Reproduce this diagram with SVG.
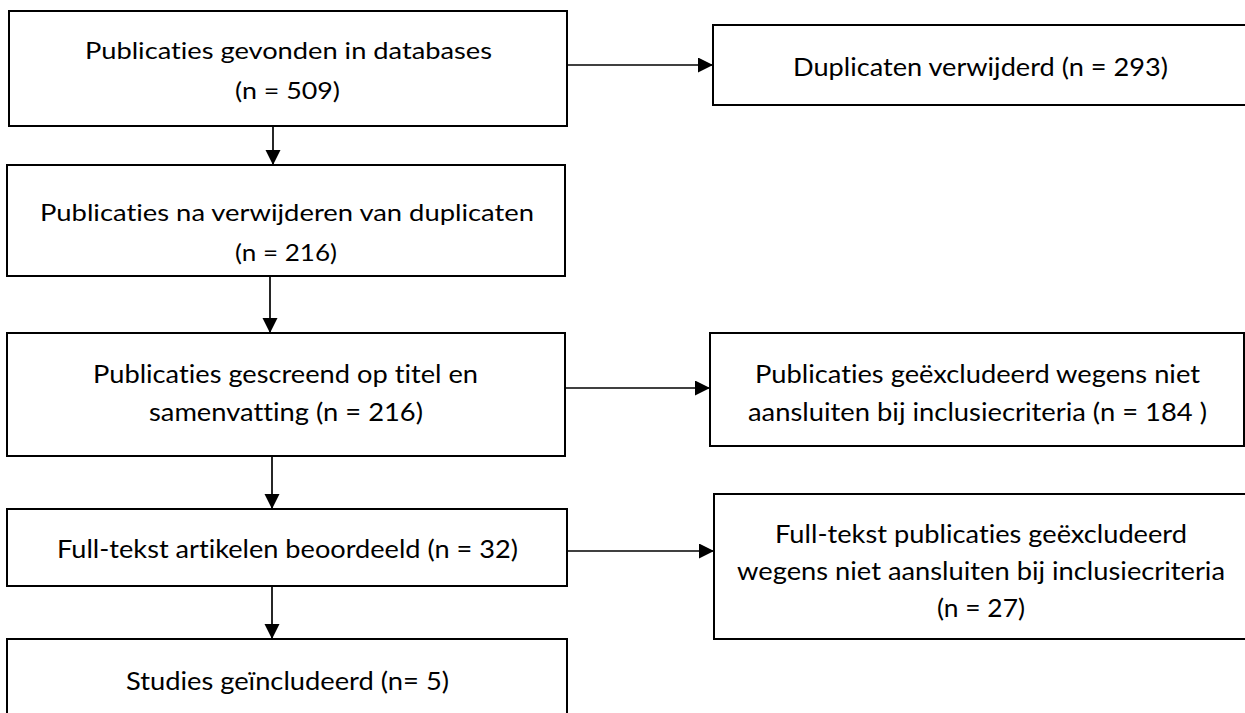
<svg xmlns="http://www.w3.org/2000/svg" width="1245" height="713" viewBox="0 0 1245 713">
<defs>
<marker id="ah" markerUnits="userSpaceOnUse" markerWidth="16" markerHeight="16" refX="15" refY="7.5" orient="auto"><path d="M0,0 L15,7.5 L0,15 Z" fill="#000"/></marker>
<style>
.box{fill:#fff;stroke:#000;stroke-width:2}
.t{font-family:Lato,"Liberation Sans",sans-serif;fill:#000;font-variant-ligatures:none;font-feature-settings:"liga" 0,"clig" 0}
.s{font-size:23px}
.m{font-size:25px}
.c{stroke:#000;stroke-width:1.7;fill:none;marker-end:url(#ah)}
</style>
</defs>
<rect width="1245" height="713" fill="#fff"/>
<g id="n1">
<rect class="box" x="9" y="11" width="558" height="115"/>
<text class="t s" x="85" y="59" textLength="407" lengthAdjust="spacingAndGlyphs">Publicaties gevonden in databases</text>
<text class="t s" x="235" y="99" textLength="105" lengthAdjust="spacingAndGlyphs">(n = 509)</text>
</g>
<g id="n2">
<rect class="box" x="7" y="165" width="558" height="111"/>
<text class="t s" x="40" y="221" textLength="494" lengthAdjust="spacingAndGlyphs">Publicaties na verwijderen van duplicaten</text>
<text class="t s" x="235" y="261" textLength="102" lengthAdjust="spacingAndGlyphs">(n = 216)</text>
</g>
<g id="n3">
<rect class="box" x="7" y="333" width="558" height="123"/>
<text class="t m" x="93" y="383" textLength="385" lengthAdjust="spacingAndGlyphs">Publicaties gescreend op titel en</text>
<text class="t m" x="149" y="421" textLength="274" lengthAdjust="spacingAndGlyphs">samenvatting (n = 216)</text>
</g>
<g id="n4">
<rect class="box" x="7" y="509" width="560" height="77"/>
<text class="t m" x="57" y="558" textLength="461" lengthAdjust="spacingAndGlyphs">Full-tekst artikelen beoordeeld (n = 32)</text>
</g>
<g id="n5">
<rect class="box" x="7" y="639" width="560" height="90"/>
<text class="t m" x="126" y="690" textLength="323" lengthAdjust="spacingAndGlyphs">Studies geïncludeerd (n= 5)</text>
</g>
<g id="d1">
<rect class="box" x="713" y="25" width="535" height="80"/>
<text class="t m" x="793" y="76" textLength="375" lengthAdjust="spacingAndGlyphs">Duplicaten verwijderd (n = 293)</text>
</g>
<g id="d2">
<rect class="box" x="710" y="333" width="534" height="113"/>
<text class="t m" x="755" y="383" textLength="445" lengthAdjust="spacingAndGlyphs">Publicaties geëxcludeerd wegens niet</text>
<text class="t m" x="748" y="421" textLength="459" lengthAdjust="spacingAndGlyphs">aansluiten bij inclusiecriteria (n = 184 )</text>
</g>
<g id="d3">
<rect class="box" x="714" y="494" width="534" height="145"/>
<text class="t m" x="775" y="543" textLength="412" lengthAdjust="spacingAndGlyphs">Full-tekst publicaties geëxcludeerd</text>
<text class="t m" x="737" y="580" textLength="488" lengthAdjust="spacingAndGlyphs">wegens niet aansluiten bij inclusiecriteria</text>
<text class="t m" x="937" y="617" textLength="88" lengthAdjust="spacingAndGlyphs">(n = 27)</text>
</g>
<g id="connectors">
<path class="c" d="M273,126 V165"/>
<path class="c" d="M270,276 V333"/>
<path class="c" d="M272,456 V509"/>
<path class="c" d="M272,586 V639"/>
<path class="c" d="M567,65 H713"/>
<path class="c" d="M565,388 H710"/>
<path class="c" d="M567,551 H714"/>
</g>
</svg>
